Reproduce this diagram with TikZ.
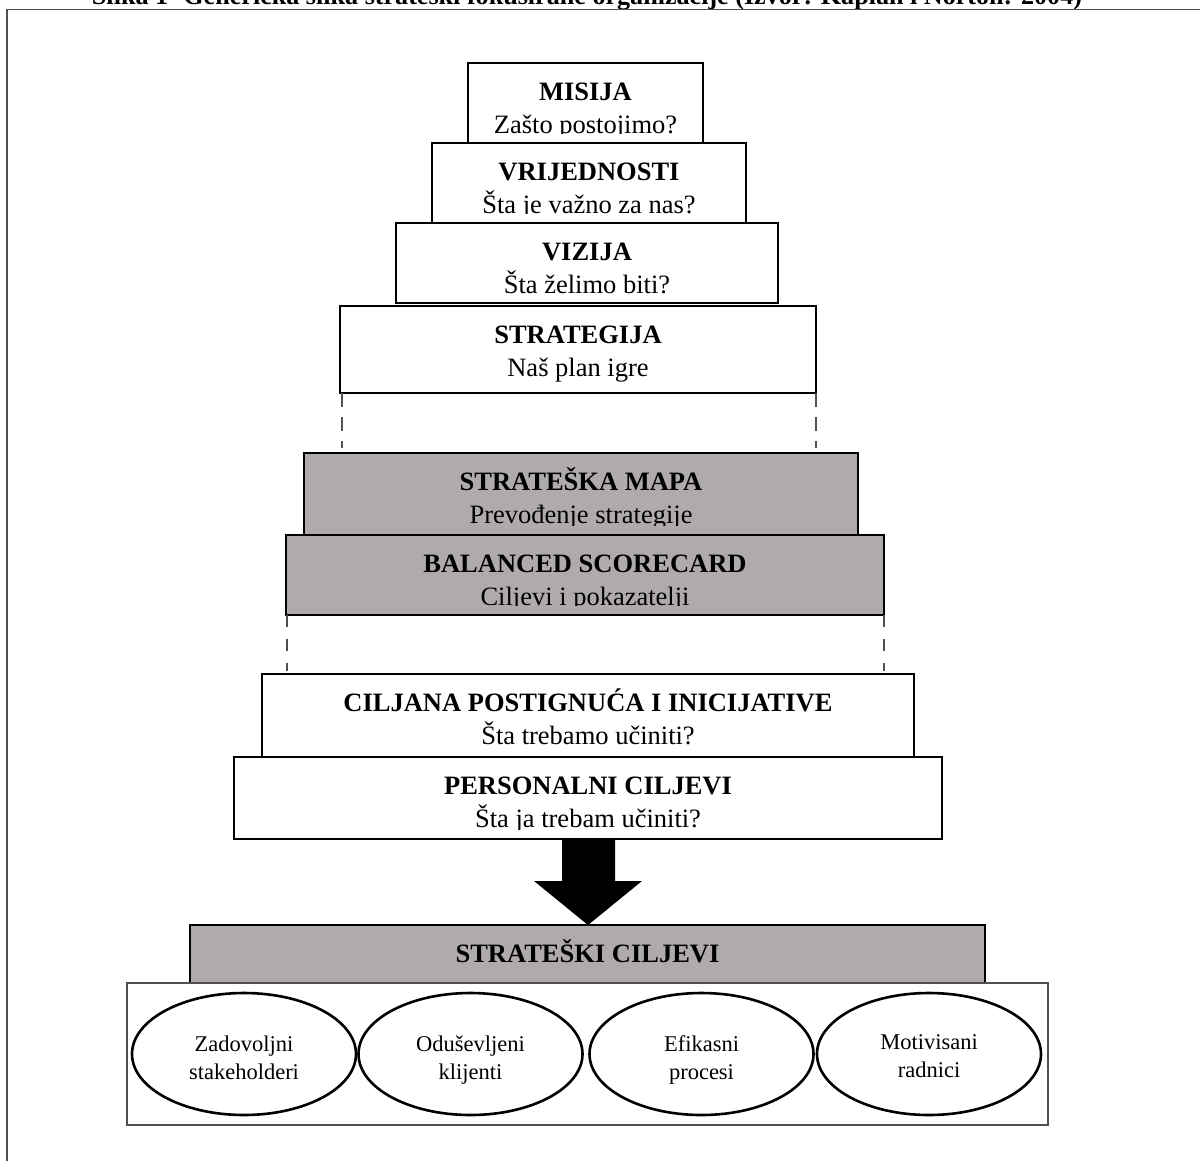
\documentclass[tikz,border=0pt]{standalone}
\usepackage{fontspec}
\setmainfont{Liberation Serif}
\usetikzlibrary{shapes.geometric,calc}
\definecolor{tiergray}{RGB}{175,171,170}
\definecolor{framegray}{RGB}{80,80,80}
\newcommand\hdfont{\fontsize{26.5}{30}\selectfont\bfseries}
\newcommand\txfont{\fontsize{26.5}{30}\selectfont}
\newcommand\smfont{\fontsize{22.5}{26}\selectfont}
% #1 name, #2 x1, #3 y1, #4 x2, #5 y2, #6 style, #7 line 1, #8 line 2
\newcommand\tierbox[8]{%
  \node[#6, anchor=north west, minimum width={(#4-#2)*1pt}, minimum height={(#5-#3)*1pt}] (#1) at (#2,#3) {};
  \begin{scope}
    \clip (#1.north west) rectangle ([yshift=10pt]#1.south east);
    \node[anchor=base, font=\hdfont, inner sep=0pt] (#1-a) at ([yshift=-37pt]#1.north) {#7};
    \node[anchor=base, font=\txfont, inner sep=0pt] (#1-b) at ([yshift=-70pt]#1.north) {#8};
  \end{scope}}
\begin{document}
\begin{tikzpicture}[x=1pt,y=-1pt,
  whitetier/.style={draw=black, line width=1.3pt, fill=white, inner sep=0pt, outer sep=0pt},
  shadedtier/.style={whitetier, fill=tiergray},
  dashline/.style={draw=framegray, line width=1.4pt, dash pattern=on 14pt off 10pt},
  goal/.style={ellipse, draw=black, line width=2.6pt, minimum width=224pt, minimum height=122pt, inner sep=0pt, outer sep=0pt},
  goaltext/.style={anchor=base, font=\smfont, inner sep=0pt}]
\useasboundingbox (0,0) rectangle (1200,1160);
\clip (0,0) rectangle (1200,1160);
\fill[white] (0,0) rectangle (1200,1160);

% caption (cut by the top edge)
\node[anchor=base, inner sep=0pt, outer sep=0pt] (caption) at (587,4)
  {\resizebox{990pt}{!}{\bfseries Slika 1- Generička slika strateški fokusirane organizacije (Izvor: Kaplan i Norton: 2004)}};

% outer frame
\coordinate (frameTR) at (1215,9.5);
\coordinate (frameTL) at (7,9.5);
\coordinate (frameBL) at (7,1175);
\draw[framegray, line width=1.6pt] (frameTR) -- (frameTL) -- (frameBL);

% upper pyramid
\tierbox{misija}{468}{63}{703}{143}{whitetier}{MISIJA}{Zašto postojimo?}
\tierbox{vrijed}{432}{143}{746}{223}{whitetier}{VRIJEDNOSTI}{Šta je važno za nas?}
\tierbox{vizija}{396}{223}{778}{303}{whitetier}{VIZIJA}{Šta želimo biti?}
\tierbox{strat}{340}{306}{816}{393}{whitetier}{STRATEGIJA}{Naš plan igre}

\coordinate (d1) at ([yshift=-55pt]strat.south west);
\coordinate (d2) at ([yshift=-55pt]strat.south east);
\draw[dashline] ([xshift=2pt]strat.south west) -- ([xshift=2pt]d1);
\draw[dashline] (strat.south east) -- (d2);

\tierbox{mapa}{304}{453}{858}{535}{shadedtier}{STRATEŠKA MAPA}{Prevođenje strategije}
\tierbox{bsc}{286}{535}{884}{615}{shadedtier}{BALANCED SCORECARD}{Ciljevi i pokazatelji}

\coordinate (d3) at ([yshift=-56pt]bsc.south west);
\coordinate (d4) at ([yshift=-56pt]bsc.south east);
\draw[dashline, dash pattern=on 12pt off 12pt] ([xshift=1pt]bsc.south west) -- ([xshift=1pt]d3);
\draw[dashline, dash pattern=on 12pt off 12pt] (bsc.south east) -- (d4);

\tierbox{cilj}{262}{674}{914}{757}{whitetier}{CILJANA POSTIGNUĆA I INICIJATIVE}{Šta trebamo učiniti?}
\tierbox{pers}{234}{757}{942}{839}{whitetier}{PERSONALNI CILJEVI}{Šta ja trebam učiniti?}

% strategic goals
\node[shadedtier, anchor=north west, minimum width=795pt, minimum height=58pt] (sc) at (190,925) {};
\node[anchor=base, font=\hdfont, inner sep=0pt] (sc-a) at ([yshift=-37pt]sc.north) {STRATEŠKI CILJEVI};
\node[draw=framegray, line width=1.3pt, fill=white, anchor=north west, minimum width=921pt, minimum height=142pt, inner sep=0pt, outer sep=0pt] (goals) at (127,983) {};

% block arrow from personal goals to strategic goals
\fill[black] (pers.south -| 562,0) coordinate (a1)
  -- ++(0,42) -- ++(-28,0) -- (sc.north -| 588,0) -- ++(54,-44) -- ++(-27,0) -- ++(0,-42) -- cycle;

% goal ellipses
\node[goal] (e1) at (244,1054) {};
\node[goal] (e2) at (470.5,1054) {};
\node[goal] (e3) at (701.5,1054) {};
\node[goal] (e4) at (929,1054) {};
\node[goaltext] (e1a) at ([yshift=3pt]e1.center) {Zadovoljni};
\node[goaltext] (e1b) at ([yshift=-25pt]e1.center) {stakeholderi};
\node[goaltext] (e2a) at ([yshift=3pt]e2.center) {Oduševljeni};
\node[goaltext] (e2b) at ([yshift=-25pt]e2.center) {klijenti};
\node[goaltext] (e3a) at ([yshift=3pt]e3.center) {Efikasni};
\node[goaltext] (e3b) at ([yshift=-25pt]e3.center) {procesi};
\node[goaltext] (e4a) at ([yshift=5pt]e4.center) {Motivisani};
\node[goaltext] (e4b) at ([yshift=-23pt]e4.center) {radnici};
\end{tikzpicture}
\end{document}
